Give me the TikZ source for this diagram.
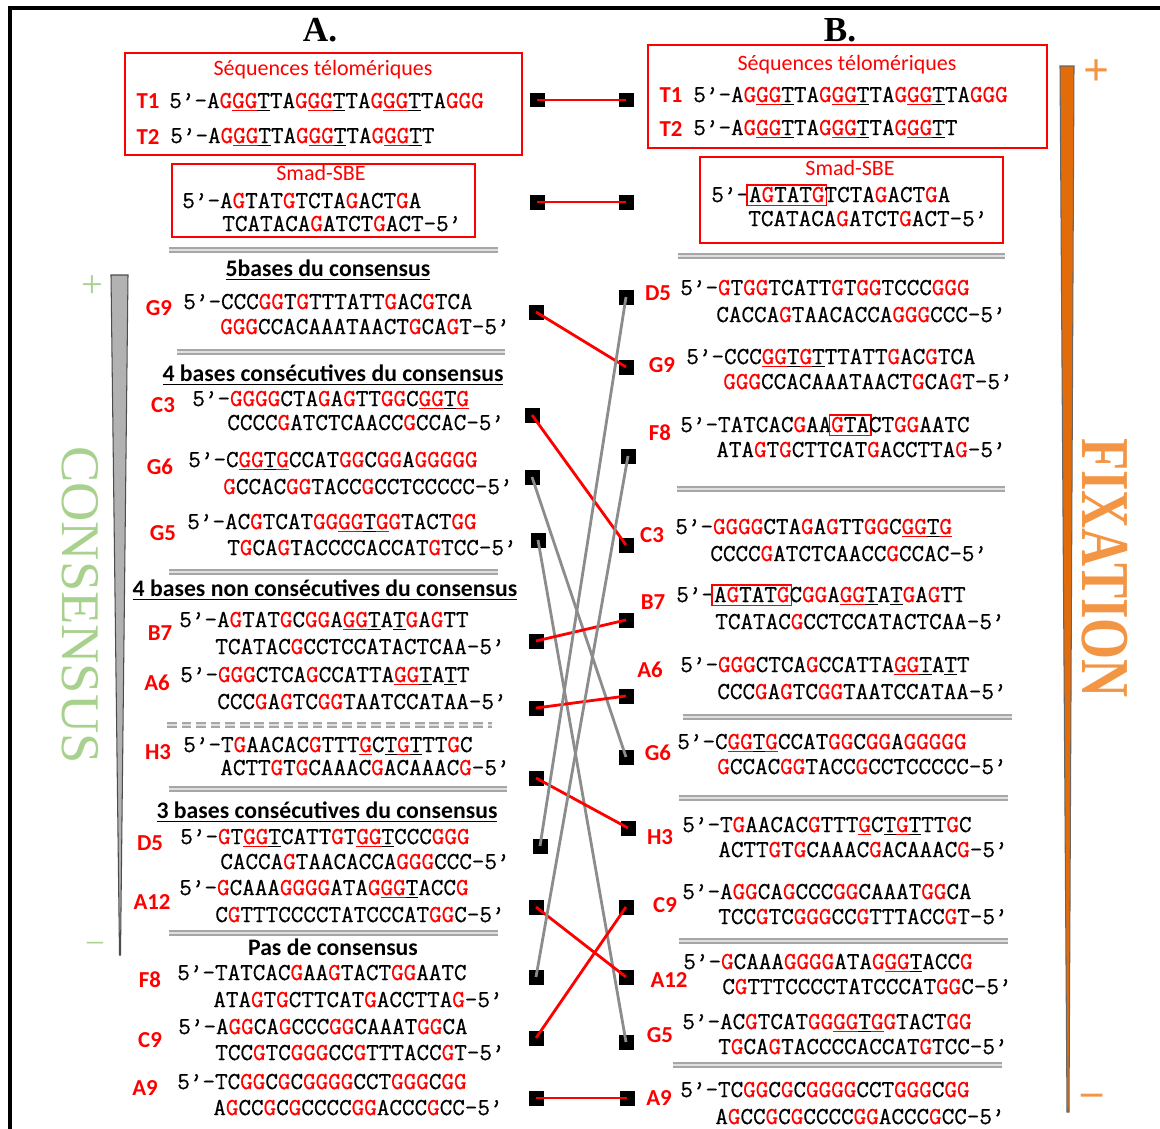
\documentclass[tikz,border=0pt]{standalone}
\usepackage{fontspec}
\usepackage{graphicx}
\setmainfont{Liberation Serif}
\newfontfamily\dnafont[FakeBold=0.6]{Latin Modern Mono}
\newfontfamily\calfont{Carlito}

\definecolor{consgreen}{RGB}{169,209,142}
\definecolor{fixorange}{RGB}{242,150,70}
\definecolor{barorange}{RGB}{226,108,10}
\definecolor{linkgray}{RGB}{140,140,140}

% red G, underlines and boxes inside the sequences
\newcommand\dnaG{\textcolor{red}{G}}
\newlength\ulw
\newcommand\ulc[2]{\settowidth\ulw{#2}\rlap{\textcolor{#1}{\rule[-1.8pt]{\ulw}{0.9pt}}}#2}
\newcommand\ur[1]{\ulc{red}{#1}}
\newcommand\uk[1]{\ulc{black}{#1}}
\newcommand\bx[1]{\settowidth\ulw{#1}%
  \rlap{\kern-1.5pt\textcolor{red}{%
    \vrule width 0.8pt height 10pt depth 2.5pt%
    \rlap{\vrule width \dimexpr\ulw+1.4pt\relax height -1.7pt depth 2.5pt}%
    \rlap{\vrule width \dimexpr\ulw+1.4pt\relax height 10pt depth -9.2pt}%
    \kern\dimexpr\ulw+1.4pt\relax
    \vrule width 0.8pt height 10pt depth 2.5pt}}#1}
\ExplSyntaxOn
\tl_new:N \l_dna_tl
\NewDocumentCommand \dna { m }
  {
    \tl_set:Nn \l_dna_tl { #1 }
    \regex_replace_all:nnN { G } { \c{dnaG} } \l_dna_tl
    \tl_use:N \l_dna_tl
  }
\ExplSyntaxOff

\tikzset{
  seq/.style={anchor=west, inner sep=0pt, text height=8pt, text depth=0pt,
    font=\dnafont\fontsize{13.9}{15}\selectfont},
  lbl/.style={inner sep=0pt, text=red, font=\calfont\bfseries\fontsize{13}{15}\selectfont},
  hdr/.style={inner sep=0pt, font=\calfont\bfseries\fontsize{13.5}{16}\selectfont},
  ttl/.style={inner sep=0pt, text=red, font=\calfont\fontsize{12.5}{15}\selectfont},
  colhead/.style={inner sep=0pt, font=\bfseries\fontsize{20}{22}\selectfont},
  redbox/.style={draw=red, line width=0.8pt},
  sep/.style={draw=gray!70, line width=0.9pt, double=gray!25, double distance=1.2pt},
  sq/.style={fill=black, minimum size=0.3cm, inner sep=0pt},
  link/.style={line width=1.6pt, draw=#1},
}

\begin{document}
\begin{tikzpicture}[x=0.02cm, y=-0.02cm]
    \useasboundingbox (0,0) rectangle (1160,1129);
    % cadre
    \draw[line width=2pt] (10,1129) -- (10,8) -- (1160,8);

    % titres des colonnes
    \node[colhead] (colA) at (320,30) {A.};
    \node[colhead] (colB) at (840,30) {B.};

    % echelles laterales
    \draw[draw=gray!60!black, fill=gray!60, line width=0.6pt] (111,275) -- (128,275) -- (120.5,955) -- (119.5,955) -- cycle;
    \node[rotate=-90, text=consgreen, font=\fontsize{31}{31}\selectfont] (cons) at (80,605) {CONSENSUS};
    \node[text=consgreen, font=\fontsize{22}{22}\selectfont] (consP) at (92,287) {+};
    \node[text=consgreen, font=\fontsize{18}{18}\selectfont] (consM) at (95,946) {–};
    \draw[draw=gray!80!black, fill=barorange, line width=0.6pt] (1060,66) -- (1074,66) -- (1069,1112) -- (1067,1112) -- cycle;
    \node[rotate=-90, text=fixorange, font=\bfseries\fontsize{30}{30}\selectfont] (fix) at (1105,568) {\scalebox{1}[1.3]{FIXATION}};
    \node[text=fixorange, font=\bfseries\fontsize{26}{26}\selectfont] (fixP) at (1097,73) {+};
    \node[text=fixorange, font=\bfseries\fontsize{24}{24}\selectfont] (fixM) at (1092,1100) {–};

    % ---------------- colonne A ----------------
    \draw[redbox] (125,53) rectangle (522,155);
    \node[ttl] (lTtl) at (323,70) {Séquences télomériques};
    \node[lbl] (lT1) at (148,101) {T1};
    \node[seq] (lT1a) at (169,101) {\dna{5’-AG\ur{GG}\uk{T}TAG\ur{GG}\uk{T}TAG\ur{GG}\uk{T}TAGGG}};
    \node[lbl] (lT2) at (148,137) {T2};
    \node[seq] (lT2a) at (170,136) {\dna{5’-AG\ur{GG}\uk{T}TAG\ur{GG}\uk{T}TAG\ur{GG}\uk{T}T}};

    \draw[redbox] (172,164) rectangle (475,237);
    \node[ttl] (lSmad) at (321,173) {Smad-SBE};
    \node[seq] (lSmada) at (182,201) {\dna{5’-AGTATGTCTAGACTGA}};
    \node[seq] (lSmadb) at (222,224) {\dna{TCATACAGATCTGACT-5’}};

    \draw[sep] (169,250) -- (498,250);
    \node[hdr] (h5) at (328,270) {\underline{5bases du consensus}};
    \node[lbl] (lG9) at (159,308) {G9};
    \node[seq] (lG9a) at (183,302) {\dna{5’-CCCGGTGTTTATTGACGTCA}};
    \node[seq] (lG9b) at (220,327) {\dna{GGGCCACAAATAACTGCAGT-5’}};

    \draw[sep] (177,352) -- (505,352);
    \node[hdr] (h4c) at (333,375) {\underline{4 bases consécutives du consensus}};
    \node[lbl] (lC3) at (163,405) {C3};
    \node[seq] (lC3a) at (192,399) {\dna{5’-GGGGCTAGAGTTGGC\ur{GG}\uk{T}\ur{G}}};
    \node[seq] (lC3b) at (227,423) {\dna{CCCCGATCTCAACCGCCAC-5’}};
    \node[lbl] (lG6) at (160,467) {G6};
    \node[seq] (lG6a) at (188,460) {\dna{5’-C\ur{GG}\uk{T}\ur{G}CCATGGCGGAGGGGG}};
    \node[seq] (lG6b) at (223,487) {\dna{GCCACGGTACCGCCTCCCCC-5’}};
    \node[lbl] (lG5) at (163,533) {G5};
    \node[seq] (lG5a) at (187,522) {\dna{5’-ACGTCATGG\ur{GG}\uk{T}\ur{G}GTACTGG}};
    \node[seq] (lG5b) at (227,548) {\dna{TGCAGTACCCCACCATGTCC-5’}};

    \draw[sep] (169,572) -- (498,572);
    \node[hdr] (h4n) at (325,590) {\underline{4 bases non consécutives du consensus}};
    \node[lbl] (lB7) at (160,633) {B7};
    \node[seq] (lB7a) at (179,620) {\dna{5’-AGTATGCGGA\ur{GG}\uk{T}A\uk{T}GAGTT}};
    \node[seq] (lB7b) at (215,647) {\dna{TCATACGCCTCCATACTCAA-5’}};
    \node[lbl] (lA6) at (157,683) {A6};
    \node[seq] (lA6a) at (180,675) {\dna{5’-GGGCTCAGCCATTA\ur{GG}\uk{T}A\uk{T}T}};
    \node[seq] (lA6b) at (217,702) {\dna{CCCGAGTCGGTAATCCATAA-5’}};
    \draw[sep, dash pattern=on 5.5pt off 2.8pt] (167,725) -- (492,725);
    \node[lbl] (lH3) at (158,752) {H3};
    \node[seq] (lH3a) at (183,745) {\dna{5’-TGAACACGTTT\ur{G}C\uk{T}\ur{G}\uk{T}TTGC}};
    \node[seq] (lH3b) at (220,768) {\dna{ACTTGTGCAAACGACAAACG-5’}};

    \draw[sep] (169,789) -- (507,789);
    \node[hdr] (h3c) at (327,812) {\underline{3 bases consécutives du consensus}};
    \node[lbl] (lD5) at (150,843) {D5};
    \node[seq] (lD5a) at (180,837) {\dna{5’-GT\ur{GG}\uk{T}CATTGT\ur{GG}\uk{T}CCCGGG}};
    \node[seq] (lD5b) at (220,862) {\dna{CACCAGTAACACCAGGGCCC-5’}};
    \node[lbl] (lA12) at (152,902) {A12};
    \node[seq] (lA12a) at (179,888) {\dna{5’-GCAAAGGGGATAG\ur{GG}\uk{T}ACCG}};
    \node[seq] (lA12b) at (215,915) {\dna{CGTTTCCCCTATCCCATGGC-5’}};

    \draw[sep] (169,933) -- (498,933);
    \node[hdr] (h0) at (333,947) {Pas de consensus};
    \node[lbl] (lF8) at (150,980) {F8};
    \node[seq] (lF8a) at (177,973) {\dna{5’-TATCACGAAGTACTGGAATC}};
    \node[seq] (lF8b) at (213,1000) {\dna{ATAGTGCTTCATGACCTTAG-5’}};
    \node[lbl] (lC9) at (150,1040) {C9};
    \node[seq] (lC9a) at (178,1027) {\dna{5’-AGGCAGCCCGGCAAATGGCA}};
    \node[seq] (lC9b) at (215,1053) {\dna{TCCGTCGGGCCGTTTACCGT-5’}};
    \node[lbl] (lA9) at (145,1088) {A9};
    \node[seq] (lA9a) at (177,1082) {\dna{5’-TCGGCGCGGGGCCTGGGCGG}};
    \node[seq] (lA9b) at (213,1108) {\dna{AGCCGCGCCCCGGACCCGCC-5’}};

    % ---------------- colonne B ----------------
    \draw[redbox] (648,45) rectangle (1047,148);
    \node[ttl] (rTtl) at (847,65) {Séquences télomériques};
    \node[lbl] (rT1) at (671,95) {T1};
    \node[seq] (rT1a) at (693,95) {\dna{5’-AG\ur{GG}\uk{T}TAG\ur{GG}\uk{T}TAG\ur{GG}\uk{T}TAGGG}};
    \node[lbl] (rT2) at (671,129) {T2};
    \node[seq] (rT2a) at (693,128) {\dna{5’-AG\ur{GG}\uk{T}TAG\ur{GG}\uk{T}TAG\ur{GG}\uk{T}T}};

    \draw[redbox] (700,157) rectangle (1003,243);
    \node[ttl] (rSmad) at (850,168) {Smad-SBE};
    \node[seq] (rSmada) at (711,195) {\dna{5’-\bx{AGTATG}TCTAGACTGA}};
    \node[seq] (rSmadb) at (748,219) {\dna{TCATACAGATCTGACT-5’}};

    \draw[sep] (678,256) -- (1005,256);
    \node[lbl] (rD5) at (658,293) {D5};
    \node[seq] (rD5a) at (680,288) {\dna{5’-GTGGTCATTGTGGTCCCGGG}};
    \node[seq] (rD5b) at (716,315) {\dna{CACCAGTAACACCAGGGCCC-5’}};
    \node[lbl] (rG9) at (662,365) {G9};
    \node[seq] (rG9a) at (686,357) {\dna{5’-CCC\ur{GG}\uk{T}\ur{G}\uk{T}TTATTGACGTCA}};
    \node[seq] (rG9b) at (723,382) {\dna{GGGCCACAAATAACTGCAGT-5’}};
    \node[lbl] (rF8) at (660,433) {F8};
    \node[seq] (rF8a) at (680,425) {\dna{5’-TATCACGAA\bx{GTA}CTGGAATC}};
    \node[seq] (rF8b) at (716,450) {\dna{ATAGTGCTTCATGACCTTAG-5’}};

    \draw[sep] (677,489) -- (1005,489);
    \node[lbl] (rC3) at (652,535) {C3};
    \node[seq] (rC3a) at (675,527) {\dna{5’-GGGGCTAGAGTTGGC\ur{GG}\uk{T}\ur{G}}};
    \node[seq] (rC3b) at (710,554) {\dna{CCCCGATCTCAACCGCCAC-5’}};
    \node[lbl] (rB7) at (653,602) {B7};
    \node[seq] (rB7a) at (676,595) {\dna{5’-\bx{AGTATG}CGGA\ur{GG}\uk{T}A\uk{T}GAGTT}};
    \node[seq] (rB7b) at (715,622) {\dna{TCATACGCCTCCATACTCAA-5’}};
    \node[lbl] (rA6) at (650,670) {A6};
    \node[seq] (rA6a) at (680,665) {\dna{5’-GGGCTCAGCCATTA\ur{GG}\uk{T}A\uk{T}T}};
    \node[seq] (rA6b) at (717,692) {\dna{CCCGAGTCGGTAATCCATAA-5’}};

    \draw[sep] (683,717) -- (1012,717);
    \node[lbl] (rG6) at (658,753) {G6};
    \node[seq] (rG6a) at (677,742) {\dna{5’-C\ur{GG}\uk{T}\ur{G}CCATGGCGGAGGGGG}};
    \node[seq] (rG6b) at (717,767) {\dna{GCCACGGTACCGCCTCCCCC-5’}};

    \draw[sep] (679,798) -- (1008,798);
    \node[lbl] (rH3) at (660,837) {H3};
    \node[seq] (rH3a) at (682,825) {\dna{5’-TGAACACGTTT\ur{G}C\uk{T}\ur{G}\uk{T}TTGC}};
    \node[seq] (rH3b) at (718,850) {\dna{ACTTGTGCAAACGACAAACG-5’}};
    \node[lbl] (rC9) at (665,905) {C9};
    \node[seq] (rC9a) at (682,892) {\dna{5’-AGGCAGCCCGGCAAATGGCA}};
    \node[seq] (rC9b) at (718,917) {\dna{TCCGTCGGGCCGTTTACCGT-5’}};

    \draw[sep] (679,941) -- (1008,941);
    \node[lbl] (rA12) at (669,980) {A12};
    \node[seq] (rA12a) at (683,962) {\dna{5’-GCAAAGGGGATAG\ur{GG}\uk{T}ACCG}};
    \node[seq] (rA12b) at (722,987) {\dna{CGTTTCCCCTATCCCATGGC-5’}};
    \node[lbl] (rG5) at (660,1035) {G5};
    \node[seq] (rG5a) at (682,1022) {\dna{5’-ACGTCATGG\ur{GG}\uk{T}\ur{G}GTACTGG}};
    \node[seq] (rG5b) at (718,1047) {\dna{TGCAGTACCCCACCATGTCC-5’}};

    \draw[sep] (673,1065) -- (1002,1065);
    \node[lbl] (rA9) at (659,1098) {A9};
    \node[seq] (rA9a) at (680,1090) {\dna{5’-TCGGCGCGGGGCCTGGGCGG}};
    \node[seq] (rA9b) at (715,1117) {\dna{AGCCGCGCCCCGGACCCGCC-5’}};

    % carres et liaisons A -> B
    \foreach \n/\x/\y in {T/537/100, Smad/537/202, G9/536/312, C3/532/415, G6/532/477, G5/538/540,
        B7/536/641, A6/536/708, H3/536/778, D5/540/846, A12/536/907, F8/536/977, C9/536/1038, A9/536/1098}
        \node[sq] (sql\n) at (\x,\y) {};
    \foreach \n/\x/\y in {T/626/100, Smad/626/202, D5/626/297, G9/626/367, F8/628/456, C3/626/545,
        B7/626/620, A6/626/696, G6/626/757, H3/628/828, C9/626/907, A12/626/977, G5/626/1042, A9/627/1098}
        \node[sq] (sqr\n) at (\x,\y) {};
    \foreach \n/\c in {T/red, Smad/red, G9/red, C3/red, G6/linkgray, G5/linkgray, B7/red, A6/red,
        H3/red, D5/linkgray, A12/red, F8/linkgray, C9/red, A9/red}
        \draw[link=\c] (sql\n.center) -- (sqr\n.center);
\end{tikzpicture}
\end{document}
